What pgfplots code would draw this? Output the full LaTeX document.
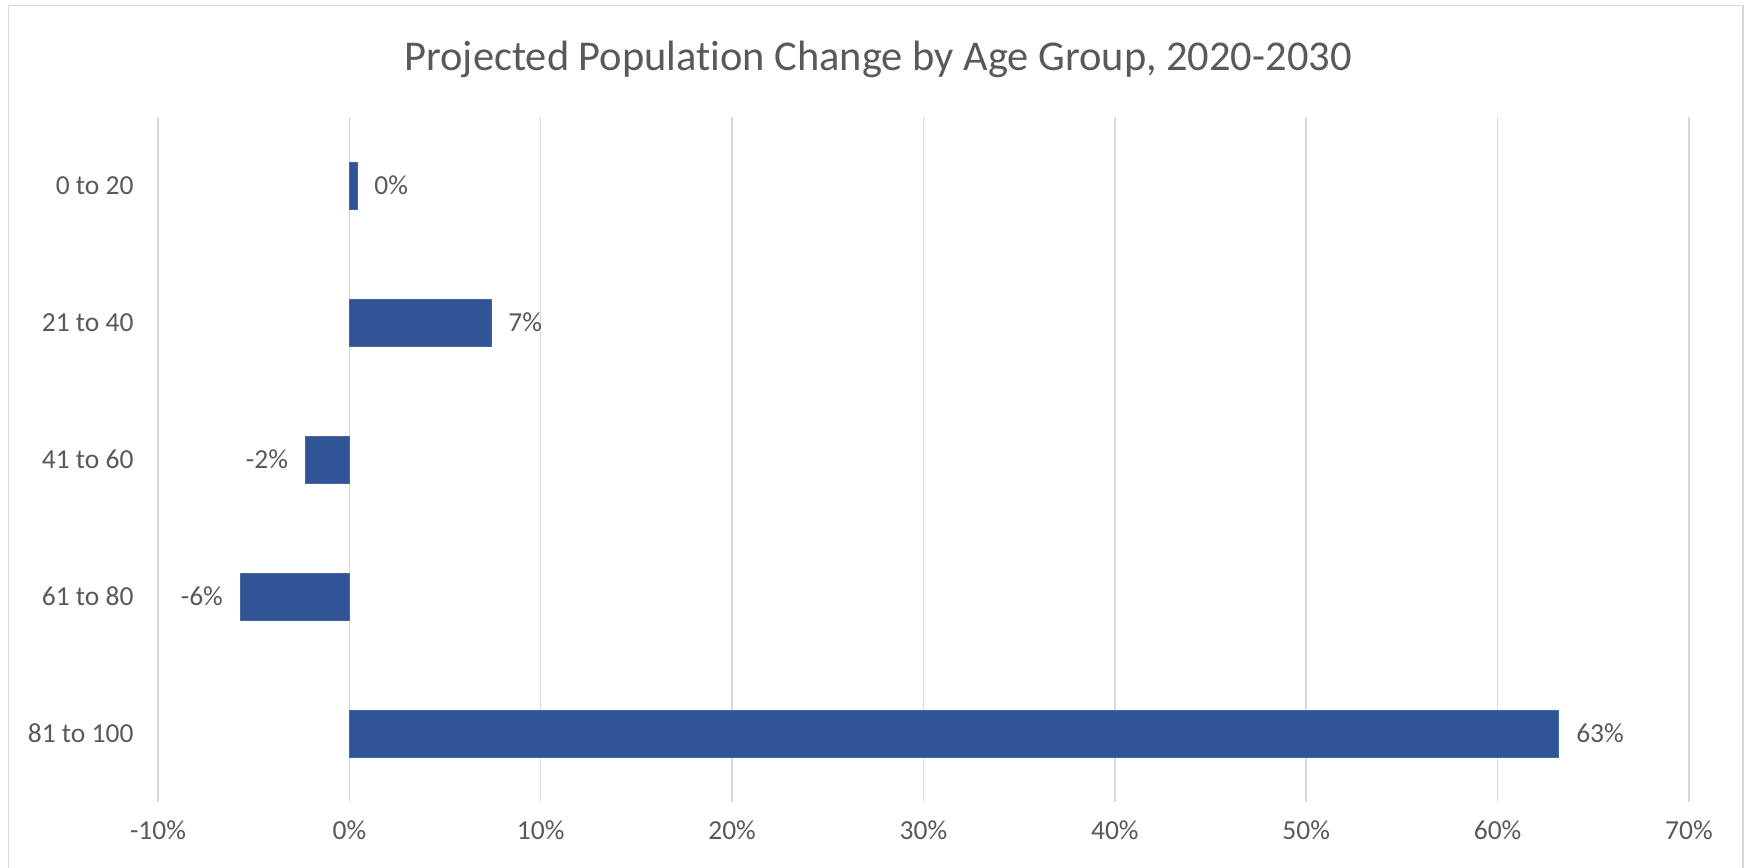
\documentclass[border=0pt]{standalone}
\usepackage{fontspec}
\setmainfont{Carlito}[RawFeature={-liga}]
\usepackage{pgfplots}
\pgfplotsset{compat=1.18}
\definecolor{barblue}{HTML}{2F5597}
\definecolor{txtgrey}{HTML}{595959}
\definecolor{gridgrey}{HTML}{D9D9D9}

\begin{document}
\begin{tikzpicture}
\useasboundingbox (0,0) rectangle (876.5bp,434bp);
% chart frame (bottom edge is cropped in the reference)
\draw[gridgrey, line width=0.75bp] (4.2bp,-2bp) -- (4.2bp,431.3bp) -- (871.5bp,431.3bp) -- (871.5bp,-2bp);
\node[txtgrey, font=\fontsize{21.3}{25}\selectfont] at (439bp,404.5bp) {Projected Population Change by Age Group, 2020-2030};

\begin{axis}[
    at={(79bp,33bp)}, anchor=south west,
    scale only axis,
    width=765.5bp, height=342.5bp,
    xbar, bar width=23.5bp, bar shift=0pt,
    xmin=-10, xmax=70,
    ymin=-0.5, ymax=4.5,
    y dir=reverse,
    axis line style={draw=none},
    xmajorgrids,
    grid style={gridgrey, line width=0.75bp},
    xtick={-10,0,10,20,30,40,50,60,70},
    xticklabels={-10\%,0\%,10\%,20\%,30\%,40\%,50\%,60\%,70\%},
    ytick={0,1,2,3,4},
    yticklabels={0 to 20,21 to 40,41 to 60,61 to 80,81 to 100},
    tick style={draw=none},
    ticklabel style={font=\fontsize{13.8}{16}\selectfont, text=txtgrey},
    xticklabel style={anchor=north, yshift=-6bp},
    yticklabel style={anchor=east, xshift=-4.5bp},
    point meta=explicit symbolic,
    nodes near coords={\pgfplotspointmeta},
    nodes near coords style={font=\fontsize{13.8}{16}\selectfont, text=txtgrey, inner xsep=8.5bp},
]
% positive changes, labels to the right
\addplot[fill=barblue, draw=barblue!90!white, line width=0.4bp,
    nodes near coords style={anchor=west}] coordinates {
    (0.4,0) [0\%]
    (7.4,1) [7\%]
    (63.2,4) [63\%]
};
% negative changes, labels to the left
\addplot[fill=barblue, draw=barblue!90!white, line width=0.4bp,
    nodes near coords style={anchor=east}] coordinates {
    (-2.3,2) [-2\%]
    (-5.7,3) [-6\%]
};
\end{axis}
\end{tikzpicture}
\end{document}
